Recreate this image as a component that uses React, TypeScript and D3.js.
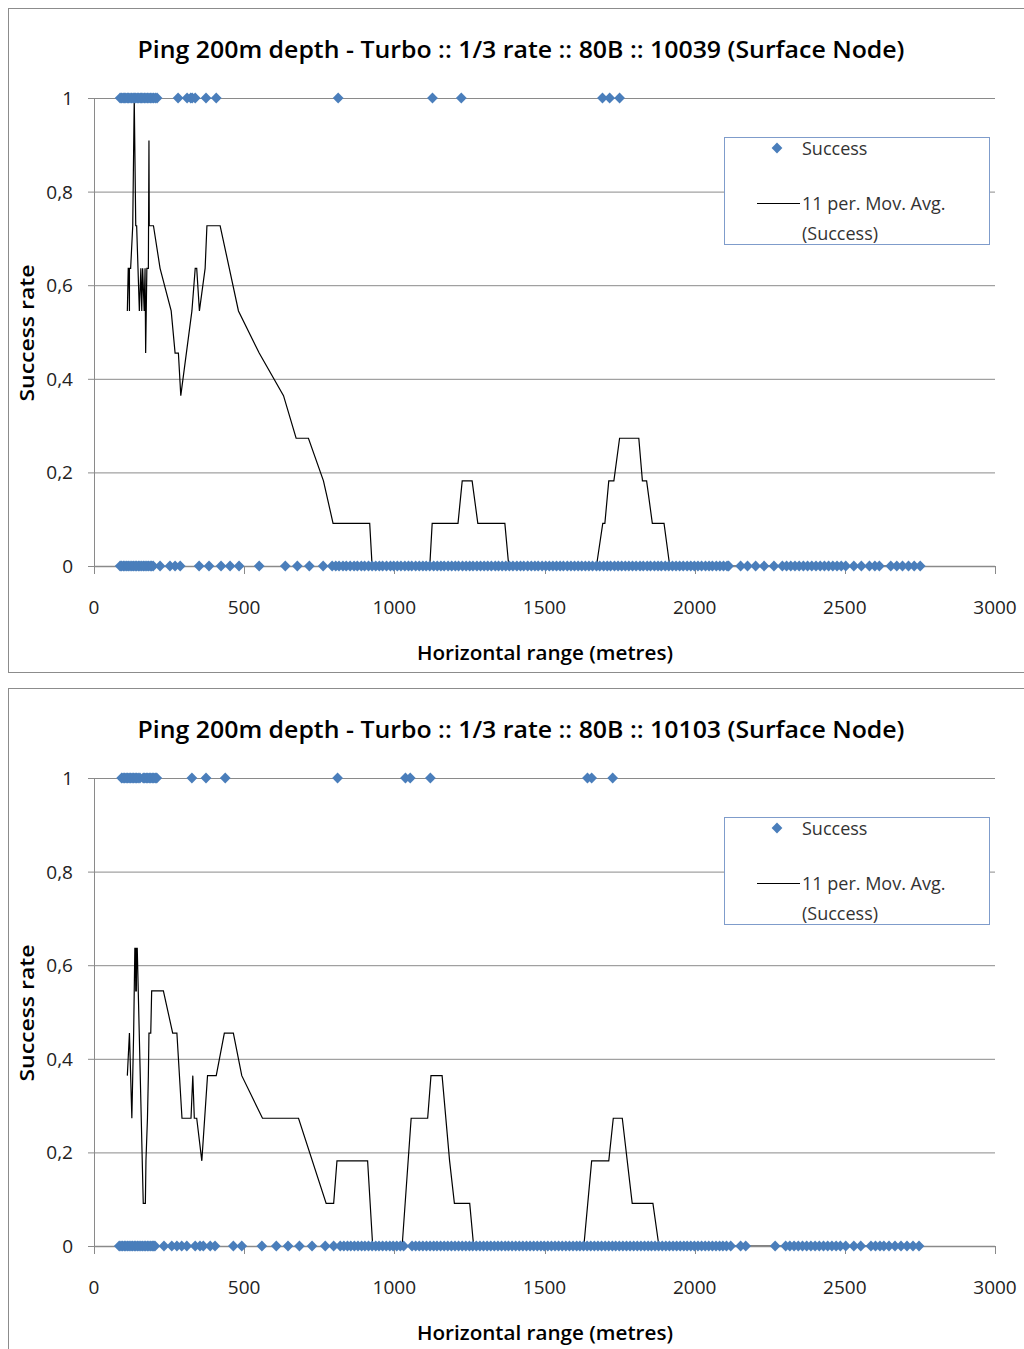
import * as d3 from "d3";

// axis ticks
const xTicks = [0, 500, 1000, 1500, 2000, 2500, 3000];
const yTicks = [0, 0.2, 0.4, 0.6, 0.8, 1];
const yTickLabels = ["0", "0,2", "0,4", "0,6", "0,8", "1"];

// ---- chart 1 : node 10039
const title1 = "Ping 200m depth - Turbo :: 1/3 rate :: 80B :: 10039 (Surface Node)";
const ones1 = [
  87, 92, 97, 101, 106, 111, 115, 120, 125, 130, 134, 139, 144, 149, 154, 158, 163, 168, 173, 178, 183, 188, 193, 198, 204, 210,
  280, 310, 322, 327, 337, 373, 407, 813, 1127, 1223, 1693, 1717, 1750,
];
const zeros1 = [
  87, 92, 98, 103, 109, 114, 120, 126, 131, 137, 142, 148, 153, 159, 165, 170, 176, 181, 187, 192, 197,
  220, 253, 270, 287, 350, 383, 423, 453, 483, 550, 637, 677, 717, 763,
  793, 805, 816, 829, 840, 853, 866, 877, 890, 901, 914, 926, 938, 950, 961, 974, 987, 998, 1010, 1022, 1035, 1047,
  1058, 1071, 1083, 1095, 1106, 1118, 1131, 1143, 1155, 1166, 1179, 1191, 1203, 1214, 1227, 1239, 1251, 1262, 1275,
  1287, 1299, 1311, 1323, 1336, 1347, 1359, 1371, 1383, 1395, 1408, 1420, 1431, 1444, 1456, 1468, 1479, 1492, 1504,
  1516, 1528, 1540, 1552, 1563, 1576, 1588, 1600, 1612, 1624, 1636, 1648, 1660, 1673, 1684, 1697, 1709, 1720, 1733,
  1745, 1757, 1769, 1781, 1793, 1805, 1818, 1829, 1842, 1853, 1866, 1878, 1889, 1902, 1914, 1926, 1938, 1950, 1962,
  1975, 1987, 1999, 2011, 2023, 2036, 2048, 2059, 2072, 2084, 2096, 2108, 2113,
  2153, 2176, 2203, 2231, 2264,
  2292, 2306, 2320, 2334, 2348, 2362, 2376, 2390, 2404, 2418, 2432, 2446, 2460, 2474, 2488, 2503,
  2530, 2555, 2582, 2600, 2615,
  2653, 2673, 2692, 2712, 2731, 2751,
];
const ma1: [number, number][] = [
  [111, 0.545], [114, 0.636], [116, 0.636], [118, 0.545], [118, 0.636], [122, 0.636], [129, 0.727], [134, 1.0],
  [139, 0.727], [142, 0.727], [151, 0.545], [156, 0.636], [159, 0.545], [162, 0.636], [167, 0.545], [170, 0.636],
  [172, 0.455], [176, 0.636], [181, 0.636], [183, 0.909], [184, 0.727], [198, 0.727], [220, 0.636], [257, 0.545],
  [270, 0.455], [281, 0.455], [289, 0.364], [326, 0.545], [337, 0.636], [342, 0.636], [351, 0.545], [370, 0.636],
  [376, 0.727], [420, 0.727], [481, 0.545], [550, 0.455], [631, 0.364], [673, 0.273], [714, 0.273], [764, 0.182],
  [796, 0.091], [918, 0.091], [926, 0], [1118, 0], [1126, 0.091], [1212, 0.091], [1226, 0.182], [1259, 0.182],
  [1278, 0.091], [1368, 0.091], [1381, 0], [1673, 0], [1694, 0.091], [1701, 0.091], [1714, 0.182], [1731, 0.182],
  [1750, 0.273], [1814, 0.273], [1826, 0.182], [1840, 0.182], [1859, 0.091], [1898, 0.091], [1917, 0], [2751, 0],
];

// ---- chart 2 : node 10103
const title2 = "Ping 200m depth - Turbo :: 1/3 rate :: 80B :: 10103 (Surface Node)";
const ones2 = [
  92, 97, 102, 107, 112, 117, 122, 127, 132, 137, 142, 147, 153,
  164, 169, 174, 179, 184, 189, 194, 199, 204, 209,
  326, 373, 437, 811, 1037, 1053, 1120, 1643, 1657, 1727,
];
const zeros2 = [
  84, 90, 95, 101, 106, 112, 117, 123, 128, 134, 139, 145, 150, 156, 161, 167, 172, 178, 183, 189, 194, 199, 203,
  233, 259, 276, 292, 309, 337, 353, 364, 387, 403, 464, 492, 559, 607, 646, 684, 726, 770, 798,
  820, 832, 844, 855, 867, 879, 891, 902, 914, 926, 938, 949, 961, 973, 985, 996, 1008, 1020, 1031,
  1059, 1071, 1083, 1095, 1107, 1119, 1131, 1142, 1154, 1166, 1178, 1190, 1202, 1214, 1226, 1238, 1250, 1261,
  1273, 1285, 1297, 1309, 1321, 1333, 1345, 1357, 1369, 1380, 1392, 1404, 1416, 1428, 1440, 1452, 1464, 1476,
  1488, 1499, 1511, 1523, 1535, 1547, 1559, 1571, 1583, 1595, 1607, 1618, 1630, 1642, 1654, 1666, 1678, 1690,
  1702, 1714, 1726, 1737, 1749, 1761, 1773, 1785, 1797, 1809, 1821, 1833, 1845, 1856, 1868, 1880, 1892, 1904,
  1916, 1928, 1940, 1952, 1964, 1975, 1987, 1999, 2011, 2023, 2035, 2047, 2059, 2071, 2083, 2094, 2106, 2120,
  2153, 2170, 2268,
  2303, 2317, 2331, 2345, 2359, 2373, 2387, 2401, 2415, 2429, 2443, 2457, 2471, 2485, 2503,
  2530, 2553, 2587, 2602, 2617, 2630,
  2647, 2667, 2687, 2707, 2727, 2747,
];
const ma2: [number, number][] = [
  [111, 0.364], [118, 0.455], [122, 0.364], [126, 0.273], [129, 0.364], [132, 0.455], [136, 0.636], [138, 0.636],
  [139, 0.545], [141, 0.545], [142, 0.636], [144, 0.636], [164, 0.091], [171, 0.091], [173, 0.182], [178, 0.273],
  [181, 0.364], [183, 0.455], [189, 0.455], [192, 0.545], [231, 0.545], [262, 0.455], [276, 0.455], [293, 0.273],
  [323, 0.273], [329, 0.364], [334, 0.273], [342, 0.273], [359, 0.182], [378, 0.364], [407, 0.364], [434, 0.455],
  [464, 0.455], [492, 0.364], [561, 0.273], [681, 0.273], [773, 0.091], [798, 0.091], [809, 0.182], [911, 0.182],
  [928, 0], [1026, 0], [1056, 0.273], [1111, 0.273], [1122, 0.364], [1159, 0.364], [1184, 0.182], [1200, 0.091],
  [1251, 0.091], [1264, 0], [1631, 0], [1657, 0.182], [1714, 0.182], [1729, 0.273], [1759, 0.273], [1792, 0.091],
  [1861, 0.091], [1881, 0], [2747, 0],
];

const FONT = "'Open Sans', 'Noto Sans', sans-serif";
const gridColor = "#8a8a8a";
const dotColor = "#4a7ebb";

const x = d3.scaleLinear().domain([0, 3000]).range([94, 995]);
const y = d3.scaleLinear().domain([0, 1]).range([566, 98]);
const diamond = d3.symbol(d3.symbolSquare, 58)()!;
const maLine = d3
  .line<[number, number]>()
  .x((d) => x(d[0]))
  .y((d) => y(d[1]));

const Chart = ({ top, title, ones, zeros, ma }: { top: number; title: string; ones: number[]; zeros: number[]; ma: [number, number][] }) => (
  <g transform={`translate(0,${top})`}>
    <rect x={8.5} y={8.5} width={1040} height={top > 0 ? 720 : 664} fill="#fff" stroke="#8c8c8c" />
    <text x={521} y={58} textAnchor="middle" fontFamily={FONT} fontWeight={600} fontSize={24} textLength={767} lengthAdjust="spacingAndGlyphs">
      {title}
    </text>
    {yTicks.map((t, i) => (
      <g key={t}>
        <line x1={88} x2={995} y1={y(t) + 0.5} y2={y(t) + 0.5} stroke={gridColor} />
        <text x={73} y={y(t) + 7} textAnchor="end" fontFamily={FONT} fontSize={19} fill="#222">
          {yTickLabels[i]}
        </text>
      </g>
    ))}
    <line x1={94.5} x2={94.5} y1={98} y2={566} stroke={gridColor} />
    {xTicks.map((t) => (
      <g key={t}>
        <line x1={Math.round(x(t)) + 0.5} x2={Math.round(x(t)) + 0.5} y1={566} y2={574} stroke={gridColor} />
        <text x={x(t)} y={614} textAnchor="middle" fontFamily={FONT} fontSize={19} fill="#222">
          {t}
        </text>
      </g>
    ))}
    <text x={545} y={660} textAnchor="middle" fontFamily={FONT} fontWeight={600} fontSize={20} textLength={256} lengthAdjust="spacingAndGlyphs">
      Horizontal range (metres)
    </text>
    <text transform="translate(34,333) rotate(-90)" textAnchor="middle" fontFamily={FONT} fontWeight={600} fontSize={20} textLength={137} lengthAdjust="spacingAndGlyphs">
      Success rate
    </text>
    <path d={maLine(ma)!} fill="none" stroke="#000" strokeWidth={1.2} />
    {/* x axis line sits over the trend line */}
    <line x1={94} x2={995} y1={y(0) + 0.5} y2={y(0) + 0.5} stroke={gridColor} strokeWidth={1.5} />
    {zeros.map((d, i) => (
      <path key={"z" + i} d={diamond} transform={`translate(${x(d)},${y(0)}) rotate(45)`} fill={dotColor} />
    ))}
    {ones.map((d, i) => (
      <path key={"o" + i} d={diamond} transform={`translate(${x(d)},${y(1)}) rotate(45)`} fill={dotColor} />
    ))}
    <rect x={724.5} y={137.5} width={265} height={107} fill="#fff" stroke="#7f9ccb" />
    <path d={diamond} transform="translate(777,148) rotate(45)" fill={dotColor} />
    <text x={802} y={155} fontFamily={FONT} fontSize={18} fill="#333">Success</text>
    <line x1={757} x2={800} y1={203.5} y2={203.5} stroke="#000" strokeWidth={1.2} />
    <text x={802} y={210} fontFamily={FONT} fontSize={18} fill="#333">11 per. Mov. Avg.</text>
    <text x={802} y={240} fontFamily={FONT} fontSize={18} fill="#333">(Success)</text>
  </g>
);

export default function App() {
  return (
    <svg width={1024} height={1349} style={{ position: "absolute", left: 0, top: 0, background: "#fff" }}>
      <rect width={1024} height={1349} fill="#fff" />
      <Chart top={0} title={title1} ones={ones1} zeros={zeros1} ma={ma1} />
      <Chart top={680} title={title2} ones={ones2} zeros={zeros2} ma={ma2} />
    </svg>
  );
}
